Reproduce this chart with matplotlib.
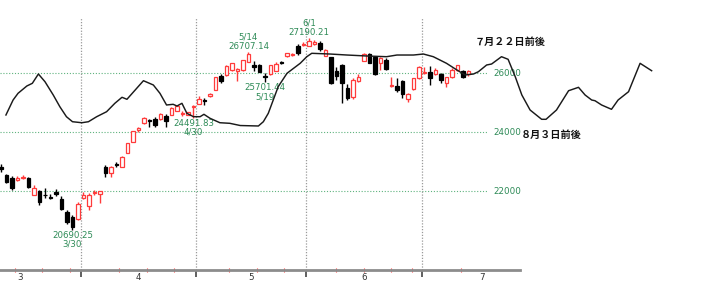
import matplotlib
matplotlib.use("Agg")
import matplotlib.pyplot as plt
from matplotlib.ticker import FixedLocator, NullFormatter

# daily candles; index 0 = first trading day of April
first_day = -15
opens = [22814, 22542, 22458, 22373, 22458, 22441, 21864, 22000, 21881, 21797,
         21983, 21729, 21288, 21119, 21051,
         21763, 21475, 21922, 21915, 22824, 22620, 22915, 22824, 23298, 23671,
         24068, 24315, 24407, 24441, 24441, 24543, 24593, 24729, 24610, 24577, 24831,
         24966, 25102, 25204, 25441, 25882, 25916, 26102, 26085, 26102, 26390,
         26288, 26271, 25899, 25966, 26085, 26363, 26560, 26610, 26899, 26966,
         26916, 26983, 27034, 26577, 26526, 26068, 26255, 25482, 25187, 25746,
         26424, 26661, 26543, 26339, 26458, 25543, 25560, 25729, 25136, 25458, 25821,
         26000, 26044, 25966, 25983, 25678, 25855, 26102, 26068, 25956]
highs = [22915, 22576, 22509, 22509, 22542, 22475, 22203, 22034, 22102, 21898,
         22068, 21831, 21356, 21186, 21644,
         21966, 21949, 22034, 22017, 22865, 22848, 23000, 23187, 23644, 24051,
         24170, 24492, 24458, 24509, 24644, 24627, 24848, 24882, 24729, 24695, 24899,
         25204, 25153, 25322, 25865, 25966, 26255, 26356, 26170, 26458, 26707.14,
         26407, 26322, 26017, 26288, 26390, 26424, 26695, 26678, 26983, 27051,
         27190.21, 27119, 27102, 26814, 26543, 26187, 26305, 25627, 25814, 25983,
         26678, 26678, 26577, 26526, 26492, 25848, 25814, 25763, 25339, 25831, 26238,
         26214, 26221, 26153, 26017, 25865, 26153, 26288, 26119, 26119]
lows = [22644, 22271, 22034, 22356, 22407, 22102, 21848, 21525, 21763, 21746,
        21831, 21356, 20881, 20690.25, 21017,
        21746, 21373, 21864, 21610, 22485, 22475, 22824, 22814, 23288, 23661,
        24000, 24288, 24170, 24170, 24424, 24180, 24577, 24712, 24543, 24560, 24491.83,
        24949, 24916, 25187, 25424, 25661, 25899, 26085, 25729, 26085, 26373,
        26068, 26034, 25701.44, 25949, 26068, 26305, 26543, 26577, 26610, 26916,
        26899, 26950, 26746, 26560, 25627, 25780, 24973, 25102, 25119, 25712,
        26407, 26339, 25932, 26102, 26102, 25526, 25373, 25153, 25027, 25441, 25797,
        25966, 25593, 25949, 25661, 25526, 25831, 26085, 25814, 25899]
closes = [22746, 22305, 22102, 22441, 22475, 22136, 22102, 21644, 21848, 21763,
          21915, 21390, 20949, 20780, 21576,
          21848, 21881, 21966, 22000, 22600, 22824, 22888, 23163, 23617, 24034,
          24126, 24465, 24373, 24238, 24627, 24383, 24814, 24865, 24644, 24678, 24865,
          25119, 25068, 25305, 25848, 25746, 26221, 26339, 26136, 26441, 26644,
          26187, 26051, 25848, 26271, 26305, 26339, 26668, 26644, 26668, 27000,
          27085, 27068, 26814, 26797, 25661, 25882, 25651, 25153, 25780, 25865,
          26661, 26356, 25966, 26492, 26136, 25577, 25441, 25288, 25305, 25814, 26214,
          26024, 25821, 26102, 25780, 25848, 26119, 26255, 25865, 26068]

# months on the axis and their number of trading days (April starts at 0)
months = ["3", "4", "5", "6", "7"]
month_days = [22, 21, 20, 21, 22]

# marked turning points: (day index, "high"/"low", date)
turns = [(-2, "low", "3/30"), (20, "low", "4/30"), (30, "high", "5/14"),
         (33, "low", "5/19"), (41, "high", "6/1")]

# cycle line (day index, value), runs past the last candle
cycle_day = [-14.1, -12.8, -11.9, -10.3, -9.3, -8.2, -7.0, -5.5, -4.3, -3.1,
             -2.0, -0.3, 0.9, 2.4, 4.2, 5.7, 7.0, 7.9, 9.4, 10.9,
             12.7, 13.9, 15.1, 16.3, 17.0, 17.9, 18.8, 20.0, 21.2, 21.9,
             23.0, 24.8, 26.6, 28.5, 31.8, 32.7, 33.6, 34.5, 35.4, 37.0,
             38.2, 39.4, 40.6, 41.5, 44.8, 47.9, 51.5, 55.1, 57.0, 60.0,
             61.8, 63.6, 66.0, 67.9, 69.4, 70.9, 71.8, 73.3, 74.2, 76.0,
             77.2, 78.5, 79.7, 81.2, 83.3, 84.1, 86.0, 88.2, 90.0, 91.2,
             92.4, 93.0, 94.2, 96.0, 97.2, 99.1, 101.2, 103.3]
cycle_value = [24577, 25085, 25312, 25560, 25651, 25966, 25705, 25255, 24858, 24519,
               24349, 24315, 24349, 24519, 24688, 24973, 25177, 25109, 25424, 25739,
               25594, 25312, 24916, 24939, 24882, 24973, 24634, 24519, 24519, 24600,
               24465, 24315, 24295, 24220, 24204, 24349, 24634, 25085, 25536, 25990,
               26160, 26329, 26553, 26668, 26644, 26610, 26577, 26553, 26610, 26610,
               26644, 26553, 26329, 26102, 25933, 25966, 26044, 26272, 26305, 26553,
               26465, 25875, 25255, 24746, 24431, 24431, 24746, 25400, 25515, 25255,
               25085, 25061, 24916, 24770, 25085, 25366, 26329, 26078]

grid_levels = [22000, 24000, 26000]
notes = [(71.2, 27050, "７月２２日前後"), (79.5, 23900, "８月３日前後")]

RED = "#ff3b3b"
GREEN = "#2e8b57"
num_font = ["Liberation Sans Narrow", "DejaVu Sans"]
jp_font = ["Noto Sans CJK JP", "DejaVu Sans"]

#%%

W, H = 706, 285
px_day = 5.5          # pixels per trading day
px_val = 29.5 / 1000  # pixels per price unit
x0 = -15.18           # day index at the left edge
y_top = 28475         # value at the top edge
axis_px = 270         # axis line, pixels from top
axis_w = 520

fig = plt.figure(figsize=(W / 100, H / 100), dpi=100)
ax = fig.add_axes([0, (H - axis_px) / H, axis_w / W, axis_px / H])
ax.set_xlim(x0, x0 + axis_w / px_day)
ax.set_ylim(y_top - axis_px / px_val, y_top)

days = list(range(first_day, first_day + len(opens)))
up = [c >= o for o, c in zip(opens, closes)]
colors = [RED if u else "black" for u in up]

# wicks then bodies
ax.vlines(days, lows, highs, colors=colors, lw=1.0, zorder=2)
bottoms = [min(o, c) for o, c in zip(opens, closes)]
heights = [max(abs(c - o), 8) for o, c in zip(opens, closes)]
ax.bar(days, heights, 0.68, bottom=bottoms,
       color=["white" if u else "black" for u in up],
       edgecolor=colors, lw=0.9, zorder=3)

# price grid
for lv in grid_levels:
    ax.plot([x0, x0 + 488 / px_day], [lv, lv], color="#5fb37f",
            lw=0.8, ls=(0, (1, 1.6)), zorder=1)
    ax.text(x0 + 507 / px_day, lv, str(lv), color=GREEN, fontsize=6.3,
            family=num_font, ha="center", va="center")

# month separators and labels
starts = [-month_days[0]]
for n in month_days[:-1]:
    starts.append(starts[-1] + n)
bounds = [s - 0.5 for s in starts[1:]]
ax.vlines(bounds, ax.get_ylim()[0], y_top - 18 / px_val, colors="#9a9a9a",
          lw=0.9, ls=(0, (1, 1.3)), zorder=1)
for s, n, m in zip(starts, month_days, months):
    ax.text(s + (n - 1) / 2, -0.012, m, transform=ax.get_xaxis_transform(),
            fontsize=6.3, family=num_font, color="#333333", ha="center", va="top")

ax.xaxis.set_major_locator(FixedLocator(bounds))
ax.xaxis.set_major_formatter(NullFormatter())
ax.xaxis.set_minor_locator(FixedLocator([-12.5, -7.5, -2.5, 6.5, 11.5, 16.5,
                                         26.5, 31.5, 36.5, 46, 51, 56, 59.7, 68.6]))
ax.tick_params(axis="x", which="major", direction="out", length=5, width=1.2,
               color="#444444")
ax.tick_params(axis="x", which="minor", direction="inout", length=2.5, width=0.8,
               color=RED)
ax.set_yticks([])
for side in ("left", "right", "top"):
    ax.spines[side].set_visible(False)
ax.spines["bottom"].set_color("#8c8c8c")
ax.spines["bottom"].set_linewidth(2)
ax.patch.set_visible(False)

# cycle line
ax.plot(cycle_day, cycle_value, color="#1a1a1a", lw=1.05, zorder=4, clip_on=False)

# turning point labels
for d, kind, date in turns:
    i = d - first_day
    if kind == "high":
        v = highs[i]
        offs = (4.0, 10.6)
    else:
        v = lows[i]
        offs = (-4.0, -10.6)
    ax.annotate(f"{v:.2f}", (d, v), xytext=(0, offs[0]), textcoords="offset points",
                ha="center", va="center", fontsize=6.2, family=num_font, color=GREEN)
    ax.annotate(date, (d, v), xytext=(0, offs[1]), textcoords="offset points",
                ha="center", va="center", fontsize=6.2, family=num_font, color=GREEN)

for d, v, s in notes:
    ax.text(d, v, s, fontsize=7.3, family=jp_font, fontweight="bold",
            ha="left", va="center", color="#111111")

fig.savefig("out.png", dpi=100)
